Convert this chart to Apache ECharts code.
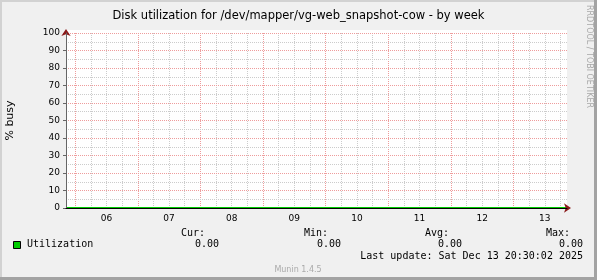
<!DOCTYPE html>
<html>
<head>
<meta charset="utf-8">
<script src="https://cdn.jsdelivr.net/npm/echarts@6/dist/echarts.min.js"></script>
<style>html,body{margin:0;padding:0;background:#f0f0f0;}#c{width:597px;height:280px;}</style>
</head>
<body>
<div id="c"></div>
<script>
// ---- data (x in hours since Fri Dec 5 2025 00:00) ----
const titleText = 'Disk utilization for /dev/mapper/vg-web_snapshot-cow - by week';
const yAxisName = '% busy';
const xMin = 20.5, xMax = 212.5;               // visible window (8 days)
const dayBoundaryHours = [24, 48, 72, 96, 120, 144, 168, 192];
const sixHourHours = [30, 36, 42, 54, 60, 66, 78, 84, 90, 102, 108, 114, 126, 132, 138, 150, 156, 162, 174, 180, 186, 198, 204, 210];
const dayLabelHours = [36, 60, 84, 108, 132, 156, 180, 204];
const dayLabels = ['06', '07', '08', '09', '10', '11', '12', '13'];
const sampleHours = [20.5, 24, 48, 72, 96, 120, 144, 168, 192, 212.5];
const utilization = [0, 0, 0, 0, 0, 0, 0, 0, 0, 0];
const seriesName = 'Utilization';
const statNames = ['Cur:', 'Min:', 'Avg:', 'Max:'];
const statValues = [0.00, 0.00, 0.00, 0.00];
const lastUpdate = 'Last update: Sat Dec 13 20:30:02 2025';
const footer = 'Munin 1.4.5';
const watermark = 'RRDTOOL / TOBI OETIKER';

const chart = echarts.init(document.getElementById('c'), null, {renderer: 'canvas'});
const mono = '"DejaVu Sans Mono", monospace';
const sans = '"DejaVu Sans", sans-serif';
const majorGrid = '#ee9c9c';
const minorGrid = '#cccccc';
const arrowRed = '#8b1a1a';

const statNameRight = [205, 328, 449, 570];
const statValRight = [219, 341, 462, 583];
const graphics = [
  {type: 'rect', shape: {x: 0, y: 0, width: 597, height: 2}, style: {fill: '#d2d2d2'}, z: -10},
  {type: 'rect', shape: {x: 0, y: 0, width: 2, height: 280}, style: {fill: '#d2d2d2'}, z: -10},
  {type: 'rect', shape: {x: 594, y: 0, width: 3, height: 280}, style: {fill: '#a3a3a3'}, z: -10},
  {type: 'rect', shape: {x: 0, y: 277, width: 597, height: 3}, style: {fill: '#a3a3a3'}, z: -10},
  {type: 'rect', shape: {x: 66, y: 30, width: 501, height: 4}, style: {fill: '#ffffff'}, z: -5},
  {type: 'text', x: 589, y: 5, rotation: -Math.PI / 2,
    style: {text: watermark, font: '8px ' + sans, fill: '#a8a8a8', align: 'left', verticalAlign: 'middle'}},
  {type: 'rect', shape: {x: 13.5, y: 241.5, width: 7, height: 7}, style: {fill: '#00cc00', stroke: '#000', lineWidth: 1}},
  {type: 'text', x: 27, y: 244.5, style: {text: seriesName, font: '10px ' + mono, fill: '#000', align: 'left', verticalAlign: 'middle'}},
  {type: 'text', x: 583, y: 256.5, style: {text: lastUpdate, font: '10px ' + mono, fill: '#000', align: 'right', verticalAlign: 'middle'}},
  {type: 'text', x: 298, y: 269.5, style: {text: footer, font: '8px ' + sans, fill: '#aaaaaa', align: 'center', verticalAlign: 'middle'}}
];
statNames.forEach((n, i) => {
  graphics.push({type: 'text', x: statNameRight[i], y: 233, style: {text: n, font: '10px ' + mono, fill: '#000', align: 'right', verticalAlign: 'middle'}});
  graphics.push({type: 'text', x: statValRight[i], y: 244.5, style: {text: statValues[i].toFixed(2), font: '10px ' + mono, fill: '#000', align: 'right', verticalAlign: 'middle'}});
});

const baseX = {type: 'value', gridIndex: 0, min: xMin, max: xMax, position: 'bottom', offset: 0,
  axisLabel: {show: false}, axisTick: {show: false}, axisLine: {show: false}, splitLine: {show: false}};

chart.setOption({
  animation: false,
  backgroundColor: '#f0f0f0',
  title: {text: titleText, left: 'center', top: 5,
    textStyle: {fontFamily: sans, fontSize: 11.5, fontWeight: 'normal', color: '#000'}},
  grid: {left: 66, right: 30, top: 33, bottom: 72, containLabel: false, outerBoundsMode: 'none',
    show: true, backgroundColor: '#ffffff', borderWidth: 0},
  xAxis: [
    Object.assign({}, baseX, {
      axisTick: {show: false, customValues: sixHourHours},
      splitLine: {show: true, customValues: sixHourHours, lineStyle: {color: minorGrid, type: 'dotted', width: 1}}
    }),
    Object.assign({}, baseX, {
      axisTick: {show: false, customValues: dayBoundaryHours},
      splitLine: {show: true, customValues: dayBoundaryHours, lineStyle: {color: majorGrid, type: 'dotted', width: 1}}
    }),
    Object.assign({}, baseX, {
      z: 5,
      axisLine: {show: true, symbol: ['none', 'arrow'], symbolSize: [7, 7], symbolOffset: [0, 4],
        lineStyle: {color: arrowRed, width: 1}}
    }),
    Object.assign({}, baseX, {
      z: 6,
      axisLine: {show: true, lineStyle: {color: '#000', width: 1}},
      axisTick: {show: false, customValues: dayLabelHours},
      axisLabel: {show: true, customValues: dayLabelHours, margin: 6,
        fontFamily: sans, fontSize: 9, color: '#000',
        formatter: v => dayLabels[dayLabelHours.indexOf(v)] || ''}
    })
  ],
  yAxis: [
    {type: 'value', min: 0, max: 100, interval: 10, position: 'left', z: 5,
      name: yAxisName, nameLocation: 'middle', nameGap: 50, nameRotate: 90,
      nameTextStyle: {fontFamily: sans, fontSize: 11, color: '#000'},
      axisLine: {show: true, symbol: ['none', 'arrow'], symbolSize: [7, 7], symbolOffset: [0, 4],
        lineStyle: {color: arrowRed, width: 1}},
      axisTick: {show: true, length: 3, lineStyle: {color: '#666'}},
      axisLabel: {margin: 6, fontFamily: sans, fontSize: 9, color: '#000'},
      splitLine: {show: true, lineStyle: {color: majorGrid, type: 'dotted', width: 1}},
      minorTick: {show: false, splitNumber: 2},
      minorSplitLine: {show: true, lineStyle: {color: minorGrid, type: 'dotted', width: 1}}
    },
    {type: 'value', min: 0, max: 100, interval: 10, position: 'left', offset: 0, z: 6,
      axisLine: {show: true, lineStyle: {color: '#666', width: 1}},
      axisTick: {show: false}, axisLabel: {show: false}, splitLine: {show: false}
    }
  ],
  series: [{
    name: seriesName, type: 'line', xAxisIndex: 3, yAxisIndex: 0,
    data: sampleHours.map((h, i) => [h, utilization[i]]),
    symbol: 'none', lineStyle: {color: '#00cc00', width: 2}, z: 3
  }],
  graphic: graphics
});
</script>
</body>
</html>
